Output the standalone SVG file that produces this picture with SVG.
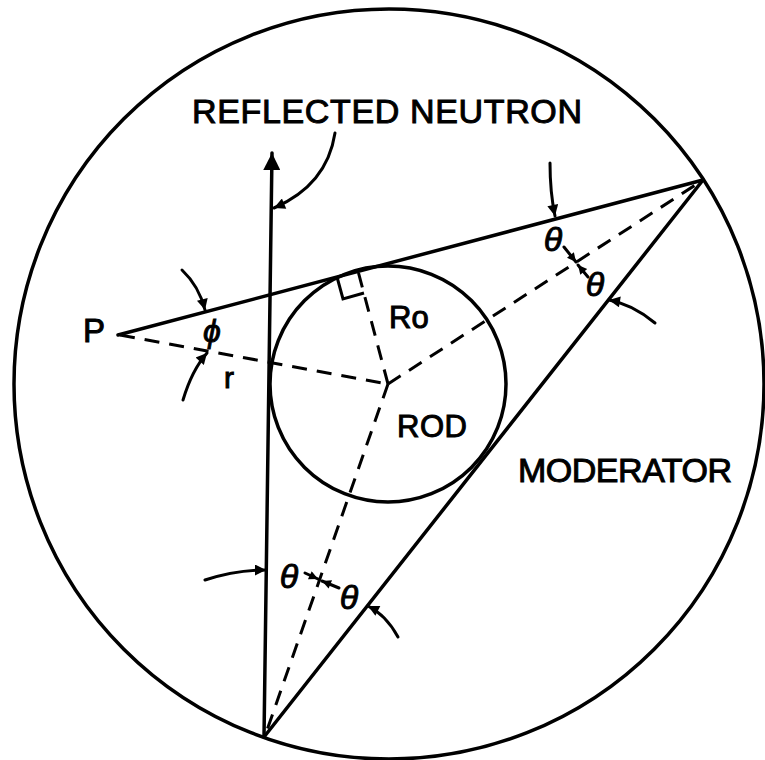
<svg xmlns="http://www.w3.org/2000/svg" width="765" height="760" viewBox="0 0 765 760">
<style>
.bg{fill:#fff}
.solid{fill:none;stroke:#000;stroke-width:3.5;stroke-linecap:round}
.dash{fill:none;stroke:#000;stroke-width:3;stroke-dasharray:15 10}
.call{fill:none;stroke:#000;stroke-width:3;stroke-linecap:round}
.lbl{font-family:"Liberation Sans",Arial,sans-serif;fill:#000;stroke:#000;stroke-width:1}
.gk{font-family:"Liberation Sans",Arial,sans-serif;font-style:italic;fill:#000;stroke:#000;stroke-width:0.9}
</style>
<defs>
<marker id="big" viewBox="0 0 10 10" refX="10" refY="5" markerWidth="22" markerHeight="17" markerUnits="userSpaceOnUse" orient="auto"><path d="M0,0 L10,5 L0,10 z"/></marker>
<marker id="ah" viewBox="0 0 10 10" refX="10" refY="5" markerWidth="17" markerHeight="11" markerUnits="userSpaceOnUse" orient="auto"><path d="M0,0 L10,5 L0,10 z"/></marker>
<marker id="sm" viewBox="0 0 10 10" refX="10" refY="5" markerWidth="11" markerHeight="9" markerUnits="userSpaceOnUse" orient="auto"><path d="M0,0 L10,5 L0,10 z"/></marker>
</defs>
<rect class="bg" x="0" y="0" width="765" height="760"/>

<g id="moderator">
<circle class="solid" cx="389" cy="384" r="375" stroke-width="4"/>
<text class="lbl" x="518" y="482" font-size="34" textLength="214" lengthAdjust="spacing">MODERATOR</text>
</g>

<g id="rod">
<circle class="solid" cx="388" cy="384" r="118" stroke-width="4"/>
<text class="lbl" x="397" y="437" font-size="31" textLength="70" lengthAdjust="spacing">ROD</text>
</g>

<g id="point-P">
<text class="lbl" x="83" y="342" font-size="33">P</text>
</g>

<g id="connectors">
<!-- reflected neutron path -->
<line class="solid" x1="264" y1="737" x2="272" y2="153" marker-end="url(#big)" stroke-linecap="butt"/>
<!-- tangent lines -->
<line class="solid" x1="118" y1="335" x2="703" y2="180"/>
<line class="solid" x1="703" y1="180" x2="264" y2="737"/>
<!-- dashed lines -->
<line class="dash" x1="120" y1="335" x2="388" y2="384"/>
<line class="dash" x1="388" y1="384" x2="700" y2="182"/>
<line class="dash" x1="388" y1="384" x2="266" y2="733"/>
<line class="dash" x1="388" y1="384" x2="358" y2="271"/>
<!-- right angle mark -->
<polyline fill="none" stroke="#000" stroke-width="3" points="337,277 343,299 364,293"/>
<!-- callout arrows -->
<path class="call" d="M335,133 Q327,185 274,208" marker-end="url(#ah)"/>
<path class="call" d="M550,163 Q550,192 555,216" marker-end="url(#ah)"/>
<path class="call" d="M655,323 Q632,304 609,300" marker-end="url(#ah)"/>
<path class="call" d="M182,270 Q199,286 205,310" marker-end="url(#ah)"/>
<path class="call" d="M183,400 Q192,370 207,353" marker-end="url(#ah)"/>
<path class="call" d="M205,580 Q236,570 266,570" marker-end="url(#ah)"/>
<path class="call" d="M398,637 Q386,615 368,606" marker-end="url(#ah)"/>
<!-- bisector marks -->
<path class="call" d="M564,247 L576,262" marker-end="url(#sm)"/>
<path class="call" d="M588,277 L578,265" marker-end="url(#sm)"/>
<path class="call" d="M339,588 L322,581" marker-end="url(#sm)"/>
<path class="call" d="M305,573 L318,579" marker-end="url(#sm)"/>
</g>

<g id="labels">
<text class="lbl" x="192" y="123" font-size="34" textLength="390" lengthAdjust="spacing">REFLECTED NEUTRON</text>
<text class="lbl" x="389" y="328" font-size="31">Ro</text>
<text class="gk" x="212" y="342" font-size="32" text-anchor="middle" font-style="normal">ϕ</text>
<text class="lbl" x="224" y="388" font-size="30">r</text>
<text class="gk" x="553" y="251" font-size="34" text-anchor="middle">θ</text>
<text class="gk" x="595" y="296" font-size="34" text-anchor="middle">θ</text>
<text class="gk" x="289" y="588" font-size="34" text-anchor="middle">θ</text>
<text class="gk" x="349" y="609" font-size="34" text-anchor="middle">θ</text>
</g>
</svg>
